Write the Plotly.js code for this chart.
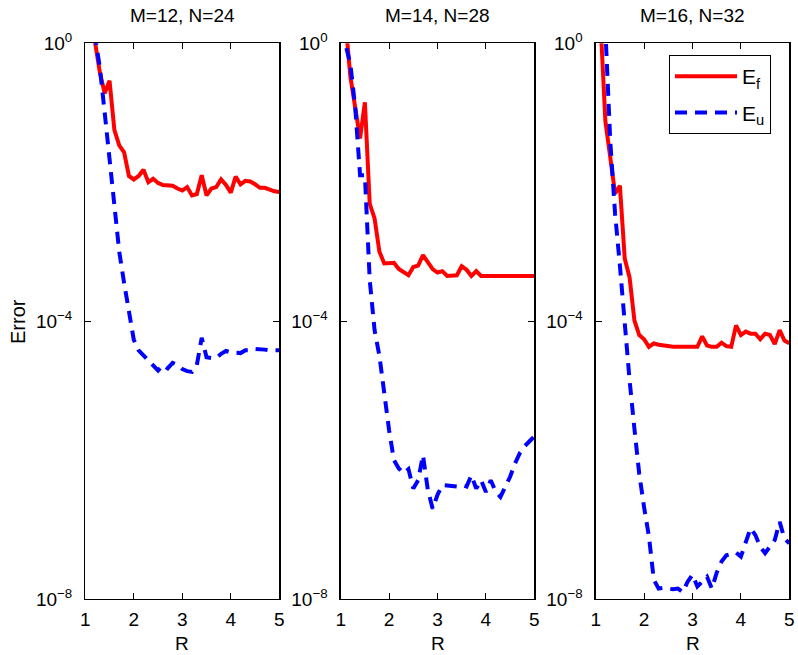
<!DOCTYPE html>
<html>
<head>
<meta charset="utf-8">
<script src="https://cdn.plot.ly/plotly-3.0.1.min.js"></script>
<style>html,body{margin:0;padding:0;background:#fff;}#chart{width:798px;height:655px;}</style>
</head>
<body>
<div id="chart"></div>
<script>
// R values (x axis)
const R = [1.0,1.1,1.2,1.3,1.4,1.5,1.6,1.7,1.8,1.9,
           2.0,2.1,2.2,2.3,2.4,2.5,2.6,2.7,2.8,2.9,
           3.0,3.1,3.2,3.3,3.4,3.5,3.6,3.7,3.8,3.9,
           4.0,4.1,4.2,4.3,4.4,4.5,4.6,4.7,4.8,4.9,5.0];

// Errors, stored as log10(Error)
const Ef_M12_log10 = [0.9,0.4,0.02,-0.42,-0.72,-0.54,-1.25,-1.47,-1.57,-1.91,
  -1.96,-1.91,-1.82,-2.0,-1.95,-2.01,-2.04,-2.04,-2.05,-2.09,
  -2.12,-2.07,-2.19,-2.17,-1.90,-2.19,-2.09,-2.07,-1.96,-2.04,
  -2.15,-1.92,-2.03,-1.98,-1.99,-2.03,-2.08,-2.08,-2.11,-2.13,-2.14];
const Eu_M12_log10 = [1.0,0.6,0.1,-0.35,-1.0,-1.69,-2.36,-3.0,-3.45,-3.87,
  -4.27,-4.42,-4.49,-4.56,-4.65,-4.71,-4.63,-4.68,-4.60,-4.63,
  -4.69,-4.72,-4.73,-4.63,-4.24,-4.52,-4.53,-4.53,-4.47,-4.43,
  -4.45,-4.46,-4.46,-4.42,-4.42,-4.40,-4.40,-4.41,-4.42,-4.42,-4.42];
const Ef_M14_log10 = [0.8,0.3,-0.48,-0.9,-1.37,-0.85,-2.31,-2.52,-3.0,-3.17,
  -3.17,-3.16,-3.25,-3.30,-3.34,-3.22,-3.20,-3.05,-3.14,-3.25,
  -3.30,-3.28,-3.35,-3.35,-3.34,-3.21,-3.26,-3.35,-3.28,-3.35,
  -3.35,-3.35,-3.35,-3.35,-3.35,-3.35,-3.35,-3.35,-3.35,-3.35,-3.35];
const Eu_M14_log10 = [0.5,-0.02,-0.3,-0.92,-1.9,-1.9,-3.41,-4.13,-4.5,-5.05,
  -5.57,-6.0,-6.12,-6.19,-6.13,-6.41,-6.29,-5.93,-6.43,-6.70,
  -6.50,-6.36,-6.37,-6.38,-6.38,-6.36,-6.38,-6.22,-6.41,-6.29,
  -6.46,-6.29,-6.45,-6.53,-6.40,-6.24,-6.05,-5.90,-5.80,-5.72,-5.66];
const Ef_M16_log10 = [1.0,0.3,-1.12,-1.6,-2.16,-2.05,-3.1,-3.37,-3.99,-4.2,
  -4.26,-4.37,-4.32,-4.34,-4.35,-4.37,-4.37,-4.37,-4.37,-4.37,
  -4.37,-4.37,-4.22,-4.35,-4.37,-4.37,-4.31,-4.36,-4.37,-4.06,
  -4.20,-4.15,-4.18,-4.18,-4.26,-4.18,-4.20,-4.33,-4.13,-4.28,-4.32];
const Eu_M16_log10 = [2.0,1.2,0.2,-1.40,-2.45,-3.2,-4.1,-4.85,-5.55,-6.2,
  -6.68,-7.1,-7.72,-7.85,-7.84,-7.85,-7.86,-7.85,-7.9,-7.75,
  -7.65,-7.82,-7.75,-7.68,-7.85,-7.62,-7.46,-7.37,-7.35,-7.33,
  -7.39,-7.18,-6.98,-7.08,-7.25,-7.34,-7.25,-7.15,-6.89,-7.13,-7.20];

const panelTitles = ['M=12, N=24','M=14, N=28','M=16, N=32'];
const xTickVals = [1,2,3,4,5];
const yTickVals = [1e-8,1e-4,1];
const yTickText = ['10<sup>\u22128</sup>','10<sup>\u22124</sup>','10<sup>0</sup>'];
const seriesNames = ['E<sub>f</sub>','E<sub>u</sub>'];

const toVal = a => a.map(v => Math.pow(10, v));
const FONT = 'Liberation Sans, Arial, Helvetica, sans-serif';
const W = 798, H = 655;

const panels = [
  {f: Ef_M12_log10, u: Eu_M12_log10, x0: 85.3, x1: 279.3},
  {f: Ef_M14_log10, u: Eu_M14_log10, x0: 340.7, x1: 534.3},
  {f: Ef_M16_log10, u: Eu_M16_log10, x0: 595.7, x1: 789.3}
];
const yTop = 43.3, yBot = 599;

const data = [];
const layout = {
  width: W, height: H,
  margin: {l:0, r:0, t:0, b:0},
  paper_bgcolor: '#fff', plot_bgcolor: '#fff',
  font: {family: FONT, size: 18, color: '#000'},
  showlegend: true,
  hovermode: false,
  legend: {
    x: 669/W, y: 1 - 55/H, xanchor: 'left', yanchor: 'top',
    bgcolor: '#fff', bordercolor: '#000', borderwidth: 1,
    font: {family: FONT, size: 21, color: '#000'},
    itemwidth: 62, traceorder: 'grouped', tracegroupgap: 6
  },
  annotations: []
};

panels.forEach((p, i) => {
  const xa = i === 0 ? 'x' : 'x' + (i+1);
  const ya = i === 0 ? 'y' : 'y' + (i+1);
  data.push({
    x: R, y: toVal(p.f), xaxis: xa, yaxis: ya, type: 'scatter', mode: 'lines',
    name: seriesNames[0], legendgroup: 'f', showlegend: i === 2,
    line: {color: '#ff0000', width: 4}
  });
  data.push({
    x: R, y: toVal(p.u), xaxis: xa, yaxis: ya, type: 'scatter', mode: 'lines',
    name: seriesNames[1], legendgroup: 'u', showlegend: i === 2,
    line: {color: '#0000ff', width: 4, dash: '12px,8px'}
  });
  const xk = i === 0 ? 'xaxis' : 'xaxis' + (i+1);
  const yk = i === 0 ? 'yaxis' : 'yaxis' + (i+1);
  layout[xk] = {
    domain: [p.x0/W, p.x1/W], anchor: ya, range: [1,5],
    tickvals: xTickVals, ticks: 'inside', ticklen: 6, tickwidth: 1, tickcolor: '#000',
    showline: true, linecolor: '#000', linewidth: 1.3, mirror: 'ticks',
    showgrid: false, zeroline: false, ticklabelstandoff: 3,
    tickfont: {family: FONT, size: 19, color: '#000'}
  };
  layout[yk] = {
    domain: [1 - yBot/H, 1 - yTop/H], anchor: xa, type: 'log', range: [-8, 0],
    tickvals: yTickVals, ticktext: yTickText,
    ticks: 'inside', ticklen: 6, tickwidth: 1, tickcolor: '#000',
    showline: true, linecolor: '#000', linewidth: 1.3, mirror: 'ticks',
    showgrid: false, zeroline: false, ticklabelstandoff: 8,
    tickfont: {family: FONT, size: 19, color: '#000'}
  };
  layout.annotations.push({
    text: panelTitles[i], xref: 'paper', yref: 'paper',
    x: (p.x0 + p.x1)/2/W, y: 1 - 15/H, xanchor: 'center', yanchor: 'middle',
    showarrow: false, font: {family: FONT, size: 19, color: '#000'}
  });
  layout.annotations.push({
    text: 'R', xref: 'paper', yref: 'paper',
    x: (p.x0 + p.x1)/2/W, y: 1 - 643/H, xanchor: 'center', yanchor: 'middle',
    showarrow: false, font: {family: FONT, size: 19, color: '#000'}
  });
});

layout.annotations.push({
  text: 'Error', xref: 'paper', yref: 'paper',
  x: 18/W, y: 1 - 322/H, xanchor: 'center', yanchor: 'middle', textangle: -90,
  showarrow: false, font: {family: FONT, size: 20, color: '#000'}
});

Plotly.newPlot('chart', data, layout, {staticPlot: true, displayModeBar: false});
</script>
</body>
</html>
